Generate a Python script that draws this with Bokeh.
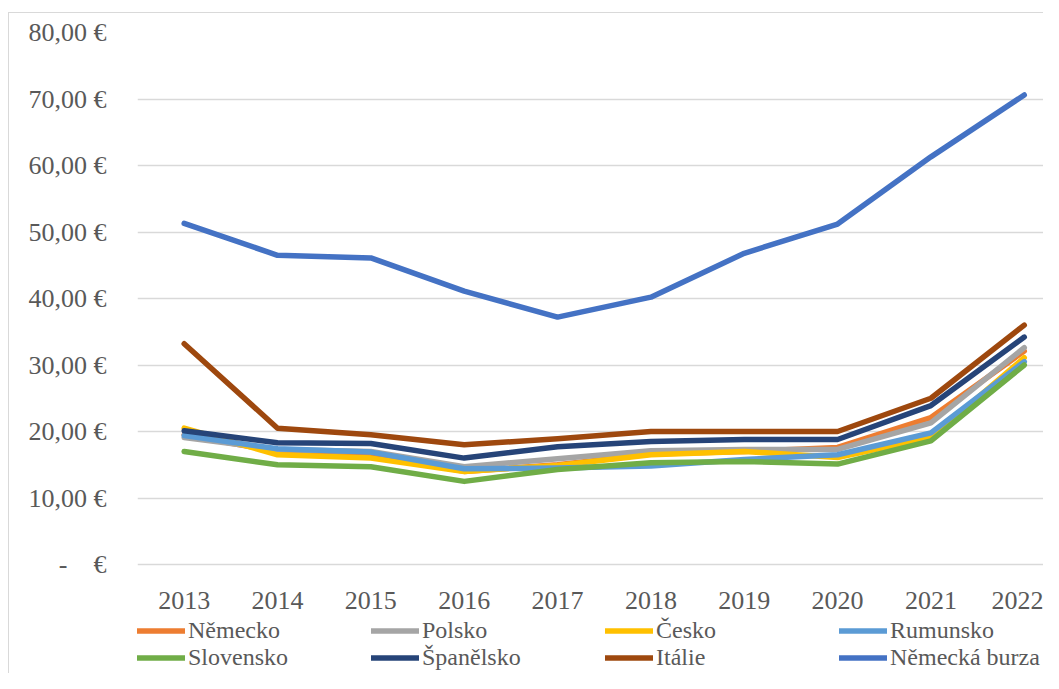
from bokeh.plotting import figure
from bokeh.models import Range1d, FixedTicker, Legend, LegendItem
from bokeh.embed import file_html
from bokeh.resources import INLINE

years = [2013, 2014, 2015, 2016, 2017, 2018, 2019, 2020, 2021, 2022]
nemecko = [19.5, 17.0, 16.5, 14.0, 15.0, 16.6, 17.0, 17.6, 22.1, 32.1]
polsko = [19.1, 17.3, 17.0, 14.7, 15.9, 17.1, 17.3, 17.3, 21.3, 32.6]
cesko = [20.5, 16.5, 16.0, 14.0, 14.9, 16.5, 17.0, 16.1, 19.1, 31.1]
rumunsko = [19.4, 17.4, 16.9, 14.4, 14.5, 14.8, 15.8, 16.5, 19.8, 30.5]
slovensko = [17.0, 15.0, 14.7, 12.5, 14.3, 15.3, 15.5, 15.1, 18.6, 30.0]
spanelsko = [20.1, 18.3, 18.2, 16.0, 17.7, 18.5, 18.8, 18.8, 23.9, 34.2]
italie = [33.2, 20.5, 19.5, 18.0, 18.9, 20.0, 20.0, 20.0, 25.0, 36.0]
burza = [51.3, 46.5, 46.1, 41.1, 37.2, 40.2, 46.8, 51.2, 61.3, 70.6]

series_names = ["Německo", "Polsko", "Česko", "Rumunsko",
                "Slovensko", "Španělsko", "Itálie", "Německá burza"]
series_values = [nemecko, polsko, cesko, rumunsko, slovensko, spanelsko, italie, burza]
series_colors = ["#ED7D31", "#A5A5A5", "#FFC000", "#5B9BD5",
                 "#70AD47", "#264478", "#9E480E", "#4472C4"]

y_ticks = [0, 10, 20, 30, 40, 50, 60, 70, 80]
y_labels = ["-\u00a0\u00a0\u00a0\u00a0€", "10,00 €", "20,00 €", "30,00 €", "40,00 €",
            "50,00 €", "60,00 €", "70,00 €", "80,00 €"]

FONT = "Liberation Serif"
TXT = "#595959"

# frame spans the whole lower area; the value axis 0..80 occupies its upper part
p = figure(width=1043, height=673, output_backend="svg", toolbar_location=None,
           x_range=Range1d(2012.5, 2022.206), y_range=Range1d(-16.39, 80),
           min_border_left=137, min_border_right=0, min_border_top=32,
           min_border_bottom=0)
p.outline_line_color = None
p.background_fill_alpha = 0
p.border_fill_alpha = 0
# light chart-area border (left and top edges), as in the source chart
p.styles = {
    "background": ("linear-gradient(#D9D9D9, #D9D9D9) 8px 12px / 1px 100% no-repeat, "
                   "linear-gradient(#D9D9D9, #D9D9D9) 8px 12px / 100% 1px no-repeat, #FFFFFF"),
}

renderers = []
for name, vals, col in zip(series_names, series_values, series_colors):
    r = p.line(years, vals, line_color=col, line_width=5.5,
               line_cap="round", line_join="round")
    renderers.append(r)

# axes
p.xaxis.fixed_location = 0
p.xaxis.ticker = FixedTicker(ticks=years)
p.xaxis.major_label_overrides = {y: str(y) for y in years}
p.yaxis.ticker = FixedTicker(ticks=y_ticks)
p.yaxis.major_label_overrides = {t: l for t, l in zip(y_ticks, y_labels)}
for ax in (p.xaxis[0], p.yaxis[0]):
    ax.axis_line_color = None
    ax.major_tick_line_color = None
    ax.minor_tick_line_color = None
    ax.major_tick_out = 0
    ax.major_tick_in = 0
    ax.major_label_text_font = FONT
    ax.major_label_text_font_size = "26px"
    ax.major_label_text_color = TXT
p.xaxis.major_label_standoff = 27
p.yaxis.major_label_standoff = 31

p.xgrid.grid_line_color = None
p.ygrid.grid_line_color = "#D9D9D9"
p.ygrid.grid_line_width = 1.3

items = [LegendItem(label=n, renderers=[r]) for n, r in zip(series_names, renderers)]
legend = Legend(items=items, orientation="horizontal", ncols=4,
                location=(0, 2), padding=0, margin=0, spacing=0,
                glyph_width=48, glyph_height=25, label_standoff=3,
                label_width=183, label_height=25,
                border_line_color=None, background_fill_alpha=0)
legend.label_text_font = FONT
legend.label_text_font_size = "24px"
legend.label_text_color = TXT
p.add_layout(legend, "center")

open("out.html", "w").write(file_html(p, INLINE))
